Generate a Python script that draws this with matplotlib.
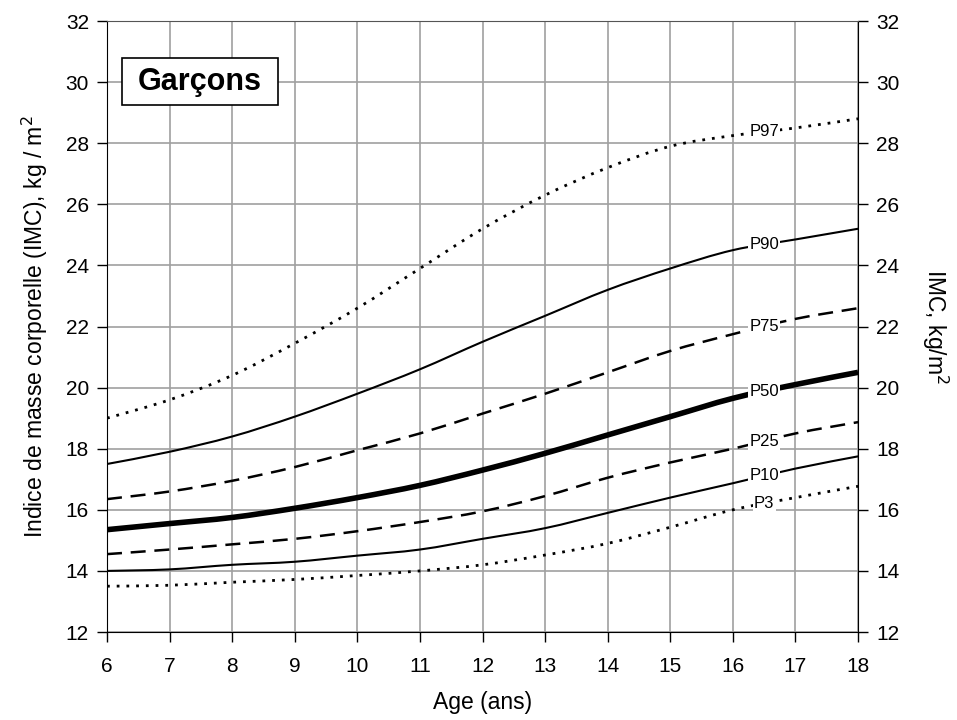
import matplotlib.pyplot as plt
from matplotlib.path import Path
from matplotlib.patches import PathPatch, Rectangle

plt.rcParams['font.family'] = ['Liberation Sans', 'DejaVu Sans']

ages = [6, 7, 8, 9, 10, 11, 12, 13, 14, 15, 16, 17, 18]

p97 = [19.0, 19.6, 20.4, 21.45, 22.6, 23.9, 25.2, 26.3, 27.2, 27.9, 28.25, 28.5, 28.8]
p90 = [17.5, 17.9, 18.4, 19.05, 19.8, 20.6, 21.5, 22.35, 23.2, 23.9, 24.5, 24.85, 25.2]
p75 = [16.35, 16.6, 16.95, 17.4, 17.95, 18.5, 19.15, 19.8, 20.5, 21.2, 21.75, 22.25, 22.6]
p50 = [15.35, 15.55, 15.75, 16.05, 16.4, 16.8, 17.3, 17.85, 18.45, 19.05, 19.65, 20.1, 20.5]
p25 = [14.55, 14.7, 14.87, 15.05, 15.3, 15.6, 15.95, 16.45, 17.05, 17.55, 18.0, 18.5, 18.87]
p10 = [14.0, 14.05, 14.2, 14.3, 14.5, 14.7, 15.05, 15.4, 15.9, 16.4, 16.87, 17.35, 17.75]
p3 = [13.5, 13.53, 13.63, 13.72, 13.85, 14.0, 14.2, 14.52, 14.9, 15.43, 16.0, 16.4, 16.77]

labels = ['P97', 'P90', 'P75', 'P50', 'P25', 'P10', 'P3']
series = [p97, p90, p75, p50, p25, p10, p3]
styles = [
    dict(ls=(0, (1, 2.5)), lw=2.0),
    dict(ls='-', lw=1.5),
    dict(ls=(0, (6, 3.5)), lw=1.8),
    dict(ls='-', lw=4.0),
    dict(ls=(0, (6, 3.5)), lw=1.8),
    dict(ls='-', lw=1.5),
    dict(ls=(0, (1, 2.5)), lw=2.0),
]
label_x = 16.5


def smooth_path(xs, ys):
    # cubic bezier through the points (catmull-rom style handles)
    verts = [(xs[0], ys[0])]
    codes = [Path.MOVETO]
    n = len(xs)
    for i in range(n - 1):
        x0, y0 = xs[max(i - 1, 0)], ys[max(i - 1, 0)]
        x1, y1 = xs[i], ys[i]
        x2, y2 = xs[i + 1], ys[i + 1]
        x3, y3 = xs[min(i + 2, n - 1)], ys[min(i + 2, n - 1)]
        c1 = (x1 + (x2 - x0) / 6, y1 + (y2 - y0) / 6)
        c2 = (x2 - (x3 - x1) / 6, y2 - (y3 - y1) / 6)
        verts += [c1, c2, (x2, y2)]
        codes += [Path.CURVE4] * 3
    return Path(verts, codes)


fig = plt.figure(figsize=(9.57, 7.2), dpi=100)
ax = fig.add_axes([0.1118, 0.1222, 0.7848, 0.8486])

for name, vals, st in zip(labels, series, styles):
    patch = PathPatch(smooth_path(ages, vals), fill=False, edgecolor='black',
                      linewidth=st['lw'], linestyle=st['ls'], capstyle='butt',
                      zorder=3)
    ax.add_patch(patch)
    i = int(label_x) - ages[0]
    y = vals[i] + (vals[i + 1] - vals[i]) * (label_x - int(label_x))
    ax.text(label_x, y, name, fontsize=12, ha='center', va='center', zorder=4,
            bbox=dict(facecolor='white', edgecolor='none', pad=0.8))

ax.set_xlim(6, 18)
ax.set_ylim(12, 32)
ax.set_xticks(range(6, 19))
ax.set_yticks(range(12, 33, 2))
ax.grid(True, color='#a0a0a0', lw=1.2)
ax.set_axisbelow(True)

ax.set_xlabel('Age (ans)', fontsize=16.5, labelpad=11)
ax.set_ylabel('Indice de masse corporelle (IMC), kg / m$^2$', fontsize=16.5,
              labelpad=11)

ax2 = ax.twinx()
ax2.set_ylim(12, 32)
ax2.set_yticks([])
for s in ax2.spines.values():
    s.set_visible(False)
ax2.set_ylabel('IMC, kg/m$^2$', fontsize=16.5, rotation=270, labelpad=66)

ax.tick_params(axis='both', direction='out', length=7, width=1, labelsize=15,
               color='black', pad=6)
ax.tick_params(axis='x', pad=11)
ax.tick_params(axis='y', left=True, right=True, labelleft=True, labelright=True)
for side in ['left', 'bottom', 'right']:
    ax.spines[side].set_color('black')
ax.spines['top'].set_color('#555555')

# title box
ax.add_patch(Rectangle((0.02, 0.8625), 0.2077, 0.077, transform=ax.transAxes,
                       facecolor='white', edgecolor='black', lw=1.2, zorder=5))
ax.text(0.1238, 0.901, 'Garçons', fontsize=22, fontweight='bold', ha='center',
        va='center', transform=ax.transAxes, zorder=6)

fig.savefig('out.png', dpi=100)
